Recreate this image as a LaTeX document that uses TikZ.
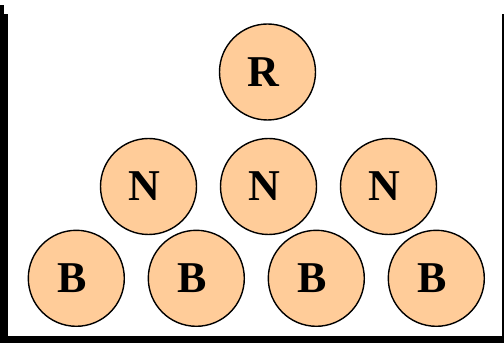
\documentclass[tikz,border=0pt]{standalone}
\usepackage{fontspec}
\setmainfont{Liberation Serif}
\usetikzlibrary{positioning}
\definecolor{peach}{RGB}{255,204,153}

\begin{document}
\begin{tikzpicture}[x=1pt,y=1pt,
piece/.style={circle,draw,fill=peach,line width=1.4pt,minimum size=96pt,
  inner sep=0pt,outer sep=0pt,font=\fontsize{44}{44}\selectfont\bfseries,
  execute at end node={\kern9pt}},
node distance=24pt]
\useasboundingbox (0,0) rectangle (504,343);
% frame with shadow
\fill (0,0) rectangle (4,338);
\fill (0,0) rectangle (7.5,329);
\fill (0,0) rectangle (504,7);
\fill (501.5,7) rectangle (503.5,329);

\node (R) [piece] at (267.5,271) {R};

\node (N2) [piece] at (268.5,156.5) {N};
\node (N1) [piece,left=of N2] {N};
\node (N3) [piece,right=of N2] {N};

\node (B2) [piece] at (196.3,64.7) {B};
\node (B1) [piece,left=of B2] {B};
\node (B3) [piece,right=of B2] {B};
\node (B4) [piece,right=of B3] {B};
\end{tikzpicture}
\end{document}
